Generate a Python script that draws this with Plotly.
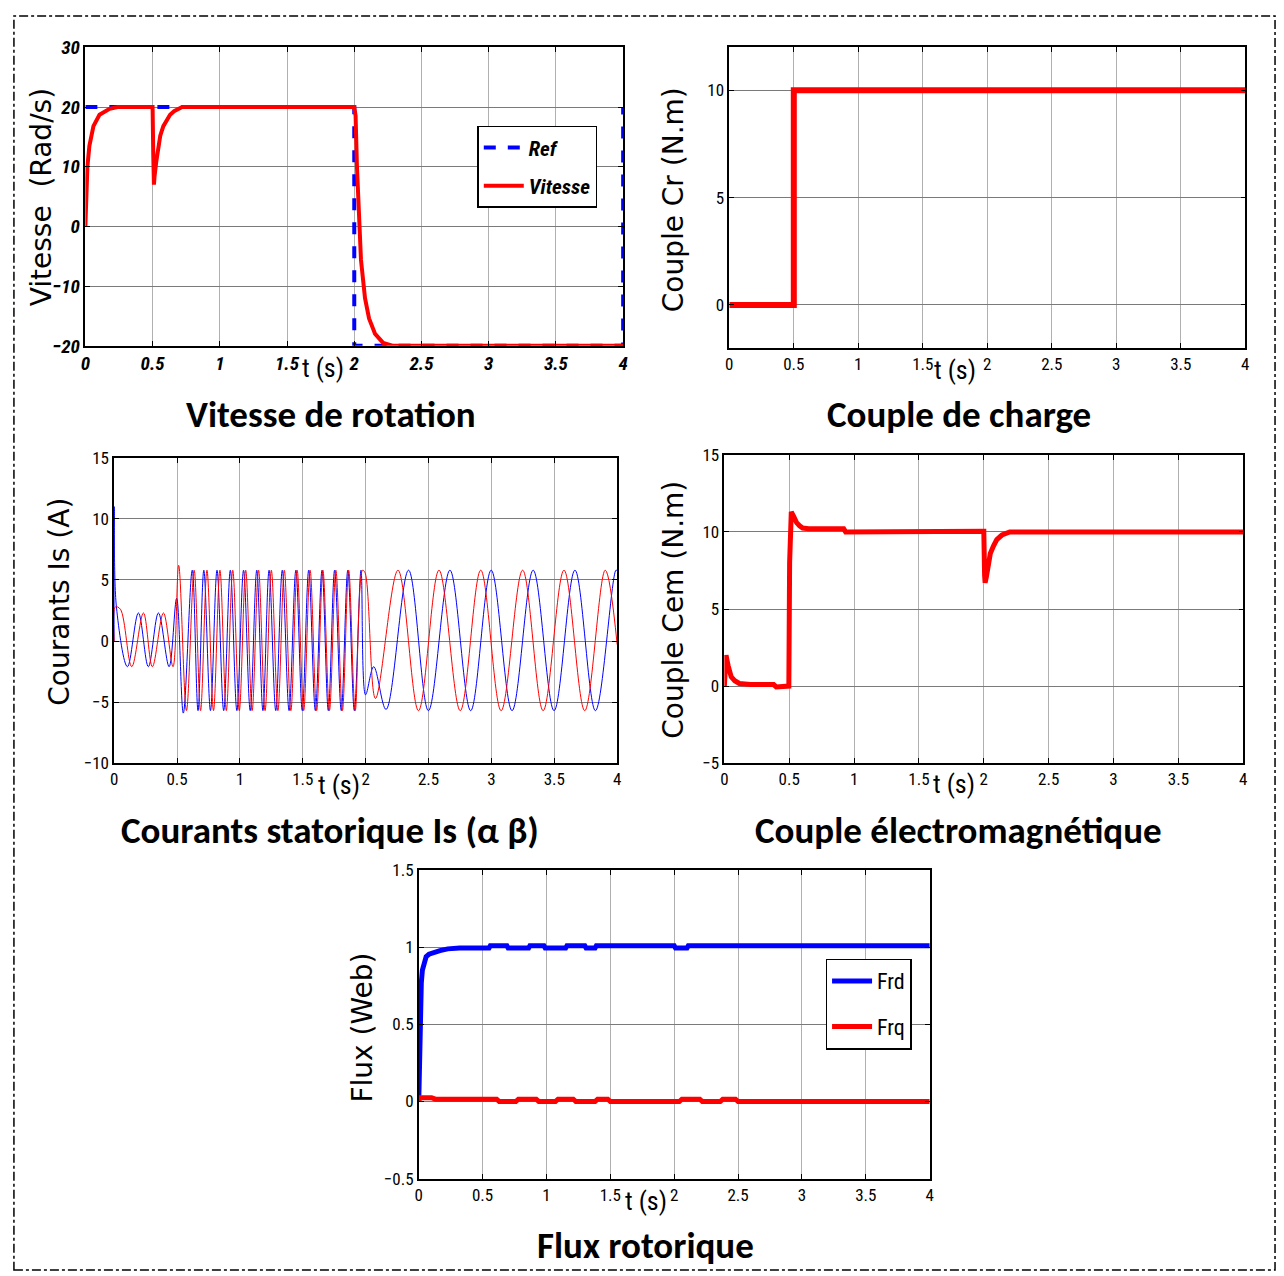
import plotly.graph_objects as go

W, H = 1284, 1276

# ---------------- data ----------------
speed_ref_t = [0, 2, 2, 4, 4]
speed_ref = [20, 20, -20, -20, 20]
speed_t = [0, 0.005, 0.015, 0.03, 0.06, 0.105, 0.18, 0.24, 0.5, 0.505, 0.51, 0.515, 0.527,
           0.54, 0.557, 0.58, 0.6, 0.63, 0.66, 0.69, 0.72,
           2.0, 2.01, 2.02, 2.035, 2.05, 2.08, 2.11, 2.155, 2.215, 2.29, 4.0]
speed = [0, 5, 10, 13.5, 16.8, 18.7, 19.7, 20, 20, 12, 7.0, 8.5, 10.8,
         13.2, 15.2, 16.8, 17.7, 18.7, 19.3, 19.7, 20,
         20, 18.5, 10, 0.4, -5.6, -12, -15.4, -18, -19.5, -20, -20]

load_t = [0, 0.5, 0.5, 4]
load = [0, 0, 10, 10]

ia_t = [0, 0.002, 0.018, 0.106, 0.193, 0.272, 0.352, 0.437, 0.497, 0.55,
        0.621, 0.667, 0.713, 0.766, 0.818, 0.871, 0.924, 0.976, 1.029, 1.082, 1.134, 1.183,
        1.232, 1.285, 1.337, 1.391, 1.445, 1.496, 1.547, 1.6, 1.653, 1.703, 1.753, 1.806,
        1.858, 1.91, 1.963, 1.999, 2.064, 2.162, 2.341, 2.499, 2.67, 2.835, 2.998, 3.164,
        3.332, 3.498, 3.664, 3.827, 3.99, 4.0]
ia = [0, 11, 2.8, -2.1, 2.3, -2.1, 2.3, -2.1, 3.5, -5.9,
      5.8, -5.7, 5.8, -5.7, 5.8, -5.7, 5.8, -5.7, 5.8, -5.7, 5.8, -5.7,
      5.8, -5.7, 5.8, -5.7, 5.8, -5.7, 5.8, -5.7, 5.8, -5.7, 5.8, -5.7,
      5.8, -5.7, 5.8, -4.4, -2.1, -5.6, 5.8, -5.7, 5.8, -5.7, 5.8, -5.7,
      5.8, -5.7, 5.8, -5.7, 5.8, 5.75]

ib_t = [0, 0.01, 0.05, 0.14, 0.233, 0.304, 0.392, 0.468, 0.513, 0.575,
        0.636, 0.687, 0.738, 0.79, 0.841, 0.892, 0.943, 0.995, 1.046, 1.097, 1.148, 1.2,
        1.25, 1.302, 1.353, 1.405, 1.455, 1.507, 1.558, 1.61, 1.66, 1.712, 1.763, 1.815,
        1.865, 1.917, 1.975, 1.995, 2.078, 2.257, 2.42, 2.583, 2.752, 2.915, 3.077,
        3.248, 3.411, 3.577, 3.742, 3.905, 4.0]
ib = [0, 2.8, 2.6, -2.1, 2.3, -2.1, 2.3, -2.1, 6.2, -5.7,
      5.8, -5.7, 5.8, -5.7, 5.8, -5.7, 5.8, -5.7, 5.8, -5.7, 5.8, -5.7,
      5.8, -5.7, 5.8, -5.7, 5.8, -5.7, 5.8, -5.7, 5.8, -5.7, 5.8, -5.7,
      5.8, -5.7, 5.8, 5.6, -4.7, 5.8, -5.7, 5.8, -5.7, 5.8, -5.7,
      5.8, -5.7, 5.8, -5.7, 5.8, -0.3]

cem_t = [0, 0.013, 0.02, 0.03, 0.04, 0.053, 0.08, 0.116, 0.2, 0.38, 0.4, 0.49, 0.497, 0.503,
         0.516, 0.535, 0.557, 0.58, 0.604, 0.65, 0.92, 0.935, 2.0, 2.006, 2.01, 2.02, 2.03,
         2.05, 2.075, 2.1, 2.14, 2.18, 2.2, 4.0]
cem = [0, 2.0, 1.7, 1.3, 0.9, 0.6, 0.35, 0.17, 0.1, 0.1, -0.05, -0.05, 0, 8,
       11.3, 11.0, 10.6, 10.4, 10.25, 10.2, 10.2, 10.0, 10.05, 7.2, 6.7, 7.1, 7.6,
       8.6, 9.1, 9.5, 9.8, 9.95, 10, 10]

frd_t = [0, 0.004, 0.008, 0.012, 0.02, 0.028, 0.04, 0.058, 0.08, 0.104, 0.166, 0.227, 0.32,
         0.55, 0.56, 0.69, 0.7, 0.86, 0.87, 0.98, 0.99, 1.15, 1.16, 1.3, 1.31, 1.38, 1.39,
         2.0, 2.01, 2.1, 2.11, 4.0]
frd = [0, 0.3, 0.5, 0.64, 0.77, 0.85, 0.9, 0.94, 0.955, 0.964, 0.979, 0.99, 0.995,
       0.995, 1.01, 1.01, 0.995, 0.995, 1.01, 1.01, 0.995, 0.995, 1.01, 1.01, 0.995, 0.995, 1.01,
       1.01, 0.995, 0.995, 1.01, 1.01]

frq_t = [0, 0.005, 0.1, 0.13, 0.61, 0.63, 0.76, 0.78, 0.92, 0.94, 1.07, 1.09, 1.21, 1.23,
         1.38, 1.40, 1.48, 1.50, 2.04, 2.06, 2.2, 2.22, 2.36, 2.38, 2.48, 2.5, 4.0]
frq = [0, 0.025, 0.025, 0.015, 0.015, 0, 0, 0.015, 0.015, 0, 0, 0.015, 0.015, 0,
       0, 0.015, 0.015, 0, 0, 0.015, 0.015, 0, 0, 0.015, 0.015, 0, 0]

t_ticks = [0, 0.5, 1, 1.5, 2, 2.5, 3, 3.5, 4]
t_ticktext = ["0", "0.5", "1", "1.5", "2", "2.5", "3", "3.5", "4"]

titles = ["Vitesse de rotation", "Couple de charge", "Courants statorique Is (α β)",
          "Couple électromagnétique", "Flux rotorique"]
ylabels = ["Vitesse  (Rad/s)", "Couple Cr (N.m)", "Courants Is (A)", "Couple Cem (N.m)", "Flux (Web)"]

# ---------------- layout helpers ----------------
def px(x):
    return x / W

def py(y):
    return 1 - y / H

def xd(a, b):
    return [px(a), px(b)]

def yd(top, bot):
    return [py(bot), py(top)]

NARROW = "Liberation Sans Narrow, Arial Narrow, Roboto Condensed, Roboto, sans-serif"
RED = "#ff0000"
BLUE = "#0000ff"

fig = go.Figure()

# Panel 1
fig.add_trace(go.Scatter(x=speed_ref_t, y=speed_ref, mode="lines", name="Ref",
                         line=dict(color=BLUE, width=4, dash="dash"), xaxis="x", yaxis="y",
                         legend="legend", legendgroup="a"))
fig.add_trace(go.Scatter(x=speed_t, y=speed, mode="lines", name="Vitesse",
                         line=dict(color=RED, width=4),
                         xaxis="x", yaxis="y", legend="legend", legendgroup="b"))
# Panel 2
fig.add_trace(go.Scatter(x=load_t, y=load, mode="lines", showlegend=False,
                         line=dict(color=RED, width=6), xaxis="x2", yaxis="y2"))
# Panel 3
fig.add_trace(go.Scatter(x=ia_t, y=ia, mode="lines", showlegend=False,
                         line=dict(color=BLUE, width=1, shape="spline"), xaxis="x3", yaxis="y3"))
fig.add_trace(go.Scatter(x=ib_t, y=ib, mode="lines", showlegend=False,
                         line=dict(color=RED, width=1, shape="spline"), xaxis="x3", yaxis="y3"))
# Panel 4
fig.add_trace(go.Scatter(x=cem_t, y=cem, mode="lines", showlegend=False,
                         line=dict(color=RED, width=5), xaxis="x4", yaxis="y4"))
# Panel 5
fig.add_trace(go.Scatter(x=frd_t, y=frd, mode="lines", name="Frd",
                         line=dict(color=BLUE, width=5),
                         xaxis="x5", yaxis="y5", legend="legend2", legendgroup="c"))
fig.add_trace(go.Scatter(x=frq_t, y=frq, mode="lines", name="Frq",
                         line=dict(color=RED, width=5), xaxis="x5", yaxis="y5",
                         legend="legend2", legendgroup="d"))

def axis_common(bold=False):
    f = dict(family=NARROW, size=17, color="black")
    if bold:
        f.update(weight="bold", style="italic", size=19)
    return dict(showline=True, linecolor="black", linewidth=1.5, mirror="ticks",
                ticks="inside", ticklen=5, tickcolor="black", tickwidth=1,
                zeroline=False, showgrid=True, tickfont=f)

panels = [
    (xd(81, 623), yd(37, 341), [-20, 30], [-20, -10, 0, 10, 20, 30], True),
    (xd(730, 1250), yd(37, 343), [-2, 12], [0, 5, 10], False),
    (xd(110, 617), yd(455, 766), [-10, 15], [-10, -5, 0, 5, 10, 15], False),
    (xd(725, 1248), yd(452, 766), [-5, 15], [-5, 0, 5, 10, 15], False),
    (xd(417, 932), yd(875, 1189), [-0.5, 1.5], [-0.5, 0, 0.5, 1, 1.5], False),
]

layout = dict(width=W, height=H, paper_bgcolor="white", plot_bgcolor="white",
              margin=dict(l=0, r=0, t=0, b=0), showlegend=True)
for i, (xdom, ydom, yr, yt, bold) in enumerate(panels, start=1):
    sx = "" if i == 1 else str(i)
    xa = axis_common(bold)
    xa.update(domain=xdom, range=[0, 4], tickvals=t_ticks, ticktext=t_ticktext,
              anchor="y" + sx, gridcolor="#b0b0b0", gridwidth=1)
    ya = axis_common(bold)
    ya.update(domain=ydom, range=yr, tickvals=yt, anchor="x" + sx,
              gridcolor="#7a7a7a", gridwidth=1.2)
    layout["xaxis" + sx] = xa
    layout["yaxis" + sx] = ya

layout["legend"] = dict(x=px(476), y=py(117), xanchor="left", yanchor="top",
                        bgcolor="white", bordercolor="black", borderwidth=1.5,
                        font=dict(family=NARROW, size=21, color="black", weight="bold",
                                  style="italic"),
                        itemwidth=40, tracegroupgap=8)
layout["legend2"] = dict(x=px(827), y=py(965), xanchor="left", yanchor="top",
                         bgcolor="white", bordercolor="black", borderwidth=1.5,
                         font=dict(family=NARROW, size=22, color="black"),
                         itemwidth=40, tracegroupgap=14)
fig.update_layout(**layout)

annotations = []
title_pos = [(329, 411), (961, 411), (328, 835), (961, 835), (646, 1257)]
for txt, (x, y) in zip(titles, title_pos):
    annotations.append(dict(text=txt, x=px(x), y=py(y), xref="paper", yref="paper",
                            showarrow=False, xanchor="center", yanchor="middle",
                            font=dict(family="Carlito, Lato, Open Sans, sans-serif", size=37,
                                      color="black", weight="bold")))
ylab_pos = [(37, 190), (674, 192), (55, 602), (673, 610), (360, 1035)]
for txt, (x, y) in zip(ylabels, ylab_pos):
    annotations.append(dict(text=txt, x=px(x), y=py(y), xref="paper", yref="paper",
                            showarrow=False, xanchor="center", yanchor="middle", textangle=-90,
                            font=dict(family="DejaVu Sans, sans-serif", size=28, color="black")))
ts_pos = [(320, 364), (957, 366), (337, 788), (956, 787), (646, 1212)]
for x, y in ts_pos:
    annotations.append(dict(text="t (s)", x=px(x), y=py(y), xref="paper", yref="paper",
                            showarrow=False, xanchor="center", yanchor="middle",
                            font=dict(family=NARROW, size=26, color="black")))
fig.update_layout(annotations=annotations)

fig.add_shape(type="rect", xref="paper", yref="paper",
              x0=px(9), x1=px(1280), y0=py(1282), y1=py(5),
              line=dict(color="black", width=1.5, dash="dashdot"))

fig.write_html("out.html")
